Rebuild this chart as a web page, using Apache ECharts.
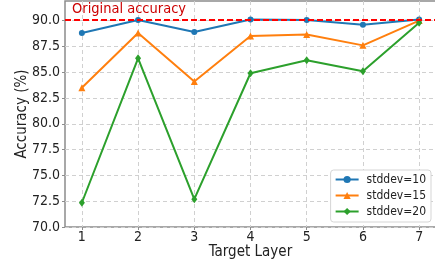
<!DOCTYPE html>
<html>
<head>
<meta charset="utf-8">
<script src="https://cdn.jsdelivr.net/npm/echarts@6/dist/echarts.min.js"></script>
<style>
html, body { margin: 0; padding: 0; background: #fff; }
#chartmain { width: 435px; height: 266px; }
</style>
</head>
<body>
<div id="chartmain"></div>
<script>
// 数据
var layers = [1, 2, 3, 4, 5, 6, 7];
var std10 = [88.8, 90.05, 88.9, 90.1, 90.05, 89.6, 90.1];
var std15 = [83.5, 88.8, 84.1, 88.5, 88.65, 87.6, 90.0];
var std20 = [72.35, 86.35, 72.7, 84.9, 86.15, 85.1, 89.8];
var originalAcc = 90.1;
var yTicks = [70, 72.5, 75, 77.5, 80, 82.5, 85, 87.5, 90];

function pairs(arr) {
    return layers.map(function (x, i) { return [x, arr[i]]; });
}

var chart = echarts.init(document.getElementById('chartmain'));
var font = '"DejaVu Sans Condensed", "DejaVu Sans"';
var spine = '#8c8c8c';

option = {
    animation: false,
    textStyle: { fontFamily: font },
    color: ['#1f77b4', '#ff7f0e', '#2ca02c'],
    grid: {
        left: 65, right: -1, top: 1, bottom: 39,
        outerBoundsMode: 'none',
        containLabel: false,
        show: true,
        borderColor: spine,
        borderWidth: 1.5
    },
    xAxis: {
        type: 'value',
        min: 0.7,
        max: 7.3,
        name: 'Target Layer',
        nameLocation: 'middle',
        nameGap: 18,
        nameMoveOverlap: false,
        nameTextStyle: { fontSize: 15, color: '#222', fontFamily: font },
        axisLine: { show: false },
        axisTick: { show: true, customValues: layers, length: 3, lineStyle: { color: spine } },
        axisLabel: { customValues: layers, fontSize: 14, color: '#222', margin: 3, fontFamily: font },
        splitLine: { show: true, lineStyle: { type: [4, 3], color: '#d0d0d0', width: 1 } }
    },
    yAxis: {
        type: 'value',
        min: 70,
        max: 91.9,
        name: 'Accuracy (%)',
        nameLocation: 'middle',
        nameGap: 35,
        nameMoveOverlap: false,
        nameTextStyle: { fontSize: 15, color: '#222', fontFamily: font },
        axisLine: { show: false },
        axisTick: { show: true, customValues: yTicks, length: 3, lineStyle: { color: spine } },
        axisLabel: {
            customValues: yTicks, fontSize: 14, color: '#222', margin: 5, fontFamily: font,
            formatter: function (v) { return v.toFixed(1); }
        },
        splitLine: { show: true, lineStyle: { type: [4, 3], color: '#d0d0d0', width: 1 } }
    },
    legend: {
        orient: 'vertical',
        right: 4,
        bottom: 44,
        itemWidth: 23,
        itemHeight: 9,
        itemGap: 3,
        padding: [3, 5, 4, 4],
        backgroundColor: '#fff',
        borderColor: '#d5d5d5',
        borderWidth: 1,
        borderRadius: 3,
        textStyle: { fontSize: 12, color: '#222', fontFamily: font, lineHeight: 13, padding: [0, 0, 0, 3] },
        data: ['stddev=10', 'stddev=15', 'stddev=20']
    },
    graphic: [{
        type: 'text',
        left: 72,
        top: 2,
        style: { text: 'Original accuracy', fill: '#cc0000', fontSize: 14.5, fontFamily: font }
    }],
    series: [
        {
            name: 'stddev=10', type: 'line', data: pairs(std10),
            symbol: 'circle', symbolSize: 6, lineStyle: { width: 2 }, z: 3,
            markLine: {
                silent: true, symbol: 'none', label: { show: false },
                lineStyle: { color: '#ff0000', type: [6, 3], width: 2 },
                data: [{ yAxis: originalAcc }]
            }
        },
        {
            name: 'stddev=15', type: 'line', data: pairs(std15),
            symbol: 'triangle', symbolSize: 7, lineStyle: { width: 2 }, z: 3
        },
        {
            name: 'stddev=20', type: 'line', data: pairs(std20),
            symbol: 'diamond', symbolSize: [6, 8], lineStyle: { width: 2 }, z: 3
        }
    ]
};

chart.setOption(option);
</script>
</body>
</html>
